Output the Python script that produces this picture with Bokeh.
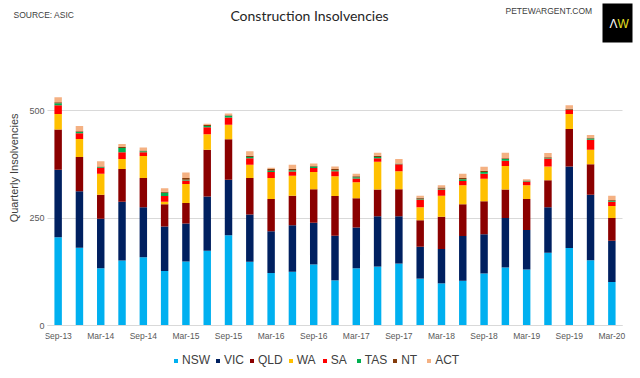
from bokeh.plotting import figure
from bokeh.models import (ColumnDataSource, Range1d, FixedTicker,
                          Legend, LegendItem, Label, BoxAnnotation, Title)
from bokeh.layouts import column, row
from bokeh.embed import file_html
from bokeh.resources import INLINE

quarters = ["Sep-13", "Dec-13", "Mar-14", "Jun-14", "Sep-14", "Dec-14", "Mar-15",
            "Jun-15", "Sep-15", "Dec-15", "Mar-16", "Jun-16", "Sep-16", "Dec-16",
            "Mar-17", "Jun-17", "Sep-17", "Dec-17", "Mar-18", "Jun-18", "Sep-18",
            "Dec-18", "Mar-19", "Jun-19", "Sep-19", "Dec-19", "Mar-20"]

NSW = [205, 181, 133, 151, 159, 127, 149, 174, 210, 148, 122, 125, 142, 105, 133, 137,
       144, 109, 98, 104, 121, 135, 130, 169, 180, 152, 101]
VIC = [157, 131, 115, 137, 116, 103, 88, 126, 129, 110, 97, 108, 97, 104, 95, 117,
       110, 74, 80, 104, 91, 115, 92, 106, 190, 152, 96]
QLD = [94, 80, 56, 76, 68, 52, 48, 109, 94, 85, 75, 69, 78, 92, 68, 62,
       63, 62, 75, 74, 77, 66, 72, 63, 87, 71, 53]
WA = [36, 42, 49, 23, 51, 6, 44, 36, 34, 31, 49, 46, 40, 46, 37, 65,
      42, 30, 49, 44, 52, 55, 32, 32, 35, 34, 28]
SA = [20, 13, 13, 16, 9, 13, 8, 16, 17, 15, 14, 10, 9, 12, 9, 8,
      16, 18, 14, 10, 12, 12, 9, 18, 9, 23, 10]
TAS = [5, 3, 2, 10, 2, 8, 2, 3, 4, 3, 3, 3, 4, 2, 3, 3,
       1, 2, 2, 4, 4, 4, 1, 1, 1, 3, 2]
NT = [2, 2, 2, 2, 2, 2, 4, 2, 1, 3, 4, 3, 1, 3, 2, 3,
      1, 2, 3, 3, 3, 2, 1, 2, 2, 1, 2]
ACT = [12, 12, 12, 7, 7, 8, 13, 3, 4, 10, 3, 10, 6, 6, 6, 7,
       10, 5, 5, 10, 9, 13, 3, 10, 8, 7, 10]

states = ["NSW", "VIC", "QLD", "WA", "SA", "TAS", "NT", "ACT"]
colors = ["#00B0F0", "#002060", "#8B0000", "#FFC000", "#FF0000", "#00B050",
          "#843C0C", "#F4B183"]
y_ticks = [0, 250, 500]

FONT = "Liberation Sans"
idx = list(range(len(quarters)))
n = len(quarters)

src = ColumnDataSource(dict(i=idx, q=quarters, NSW=NSW, VIC=VIC, QLD=QLD, WA=WA,
                            SA=SA, TAS=TAS, NT=NT, ACT=ACT))

# ---- header strip (title, source, site, logo) ----
header = figure(width=640, height=60, x_range=Range1d(0, 640),
                y_range=Range1d(60, 0), min_border=0,
                output_backend="svg", toolbar_location=None,
                outline_line_color=None)
header.axis.visible = False
header.grid.visible = False
header.add_layout(Label(x=309, y=15, text="Construction Insolvencies",
                        text_align="center", text_baseline="middle",
                        text_font="Lato", text_font_size="14px",
                        text_color="#262626"))
header.add_layout(Label(x=13, y=14, text="SOURCE: ASIC", text_align="left",
                        text_baseline="middle", text_font=FONT,
                        text_font_size="8.5px", text_color="#404040"))
header.add_layout(Label(x=505, y=10, text="PETEWARGENT.COM", text_align="left",
                        text_baseline="middle", text_font=FONT,
                        text_font_size="8.5px", text_color="#404040"))
header.add_layout(BoxAnnotation(left=602, right=632, top=3, bottom=42,
                                fill_color="black", fill_alpha=1, line_color=None))
header.add_layout(Label(x=617, y=23, text="Λ", text_align="right",
                        text_baseline="middle", text_font=FONT,
                        text_font_size="12px", text_color="white"))
header.add_layout(Label(x=617, y=23, text="W", text_align="left",
                        text_baseline="middle", text_font=FONT,
                        text_font_size="12px", text_color="#E8E020"))

# ---- main chart: frame runs down to the bottom so the legend sits inside ----
PX_PER_UNIT = 215 / 500          # 500 units span 215 px
Y_START = -53 / PX_PER_UNIT      # 53 px below the zero line
Y_END = 265 / PX_PER_UNIT        # 265 px above the zero line
PX_PER_BAR = 575 / n             # plot area width per quarter
PAD_L, PAD_R = 2, 10             # room so the end tick labels are not clipped

p = figure(x_range=Range1d(-0.5 - PAD_L / PX_PER_BAR, n - 0.5 + PAD_R / PX_PER_BAR),
           y_range=Range1d(Y_START, Y_END),
           frame_width=575 + PAD_L + PAD_R, frame_height=318,
           min_border_left=45, min_border_right=8, min_border_top=0,
           min_border_bottom=0,
           output_backend="svg", toolbar_location=None,
           outline_line_color=None)

rs = p.vbar_stack(states, x="i", width=0.35, fill_color=colors, line_color=None,
                  source=src)

p.yaxis.ticker = FixedTicker(ticks=y_ticks)
p.yaxis.axis_line_color = None
p.yaxis.major_tick_line_color = None
p.yaxis.major_tick_out = 0
p.yaxis.minor_tick_line_color = None
p.yaxis.major_label_text_font = FONT
p.yaxis.major_label_text_font_size = "9px"
p.yaxis.major_label_text_color = "#595959"
p.yaxis.major_label_standoff = 1

p.xaxis.fixed_location = 0
p.xaxis.bounds = (-0.5, n - 0.5)
p.xaxis.ticker = FixedTicker(ticks=idx[::2])
p.xaxis.major_label_overrides = {i: quarters[i] for i in idx}
p.xaxis.axis_line_color = "#D9D9D9"
p.xaxis.major_tick_line_color = None
p.xaxis.major_tick_out = 0
p.xaxis.minor_tick_line_color = None
p.xaxis.major_label_text_font = FONT
p.xaxis.major_label_text_font_size = "8.5px"
p.xaxis.major_label_text_color = "#595959"
p.xaxis.major_label_standoff = 5

p.xgrid.grid_line_color = None
p.ygrid.grid_line_color = "#D9D9D9"
grid = p.ygrid[0]
if "cross_bounds" in grid.properties():
    grid.cross_bounds = (-0.5, n - 0.5)

p.add_layout(Title(text="Quarterly Insolvencies", align="right", offset=53,
                   vertical_align="top", standoff=9,
                   text_font=FONT, text_font_size="11px", text_font_style="normal",
                   text_color="#404040"), "left")

legend = Legend(items=[LegendItem(label=s, renderers=[r]) for s, r in zip(states, rs)],
                orientation="horizontal", location=(128, 11),
                label_text_font=FONT, label_text_font_size="12px",
                label_text_color="#404040",
                glyph_width=5, glyph_height=5, label_standoff=4, spacing=5,
                padding=0, margin=0, label_height=14,
                border_line_color=None, background_fill_alpha=0)
p.add_layout(legend, "center")

layout = column(header, row(p))

open("out.html", "w").write(file_html(layout, INLINE))
